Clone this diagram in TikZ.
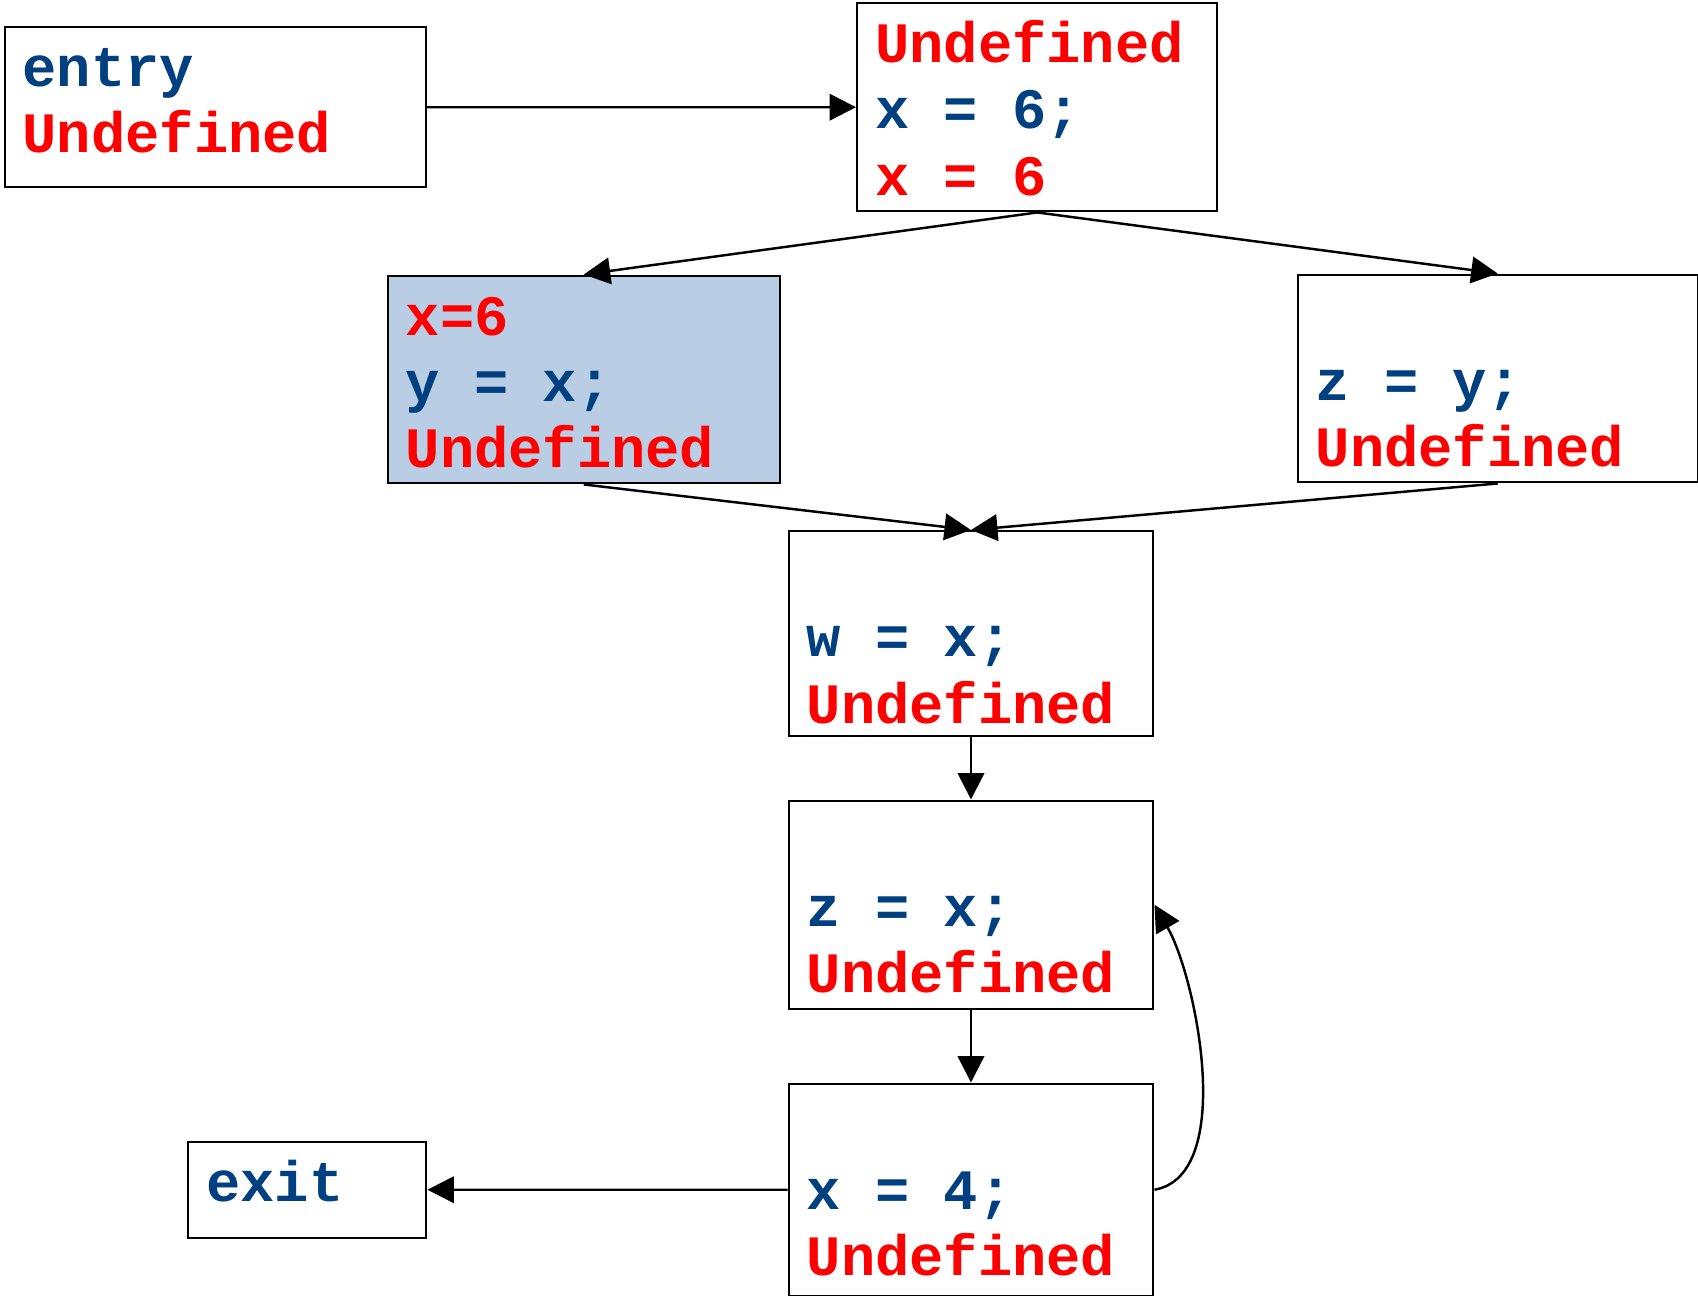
\documentclass[tikz,border=0pt]{standalone}
\usepackage{fontspec}
\usetikzlibrary{arrows.meta}
\newfontfamily\codefont{Liberation Mono}
\definecolor{codeblue}{RGB}{0,64,128}
\definecolor{boxfill}{RGB}{185,205,228}
\newcommand{\stm}[1]{{\spaceskip=0.6em\relax\textcolor{codeblue}{#1}}}
\newcommand{\val}[1]{{\spaceskip=0.6em\relax\textcolor{red}{#1}}}

\begin{document}
\begin{tikzpicture}[
    blk/.style={draw, line width=1.4pt, anchor=north west, align=left,
      inner xsep=0.36cm, inner ysep=0pt, text height=1.19cm,
      font=\codefont\bfseries\fontsize{32.5}{37.7}\selectfont},
    flow/.style={line width=1.4pt, -{Triangle[length=0.53cm,width=0.53cm]}}]
        \useasboundingbox (0,0) rectangle (33.96,-25.92);
        %entry block
        \node[blk, text width=7.7cm, text depth=2.01cm] (entry) at (0.07,-0.52)
            {\stm{entry}\\\val{Undefined}};
        %x = 6
        \node[blk, text width=6.48cm, text depth=2.97cm] (xsix) at (17.12,-0.04)
            {\val{Undefined}\\\stm{x = 6;}\\\val{x = 6}};
        %y = x (highlighted)
        \node[blk, fill=boxfill, text width=7.12cm, text depth=2.96cm] (yx) at (7.73,-5.49)
            {\val{x=6}\\\stm{y = x;}\\\val{Undefined}};
        %z = y
        \node[blk, text width=7.28cm, text depth=2.96cm] (zy) at (25.93,-5.47)
            {\mbox{}\\\stm{z = y;}\\\val{Undefined}};
        %w = x
        \node[blk, text width=6.57cm, text depth=2.91cm] (wx) at (15.75,-10.6)
            {\mbox{}\\\stm{w = x;}\\\val{Undefined}};
        %z = x
        \node[blk, text width=6.57cm, text depth=2.97cm] (zx) at (15.75,-15.99)
            {\mbox{}\\\stm{z = x;}\\\val{Undefined}};
        %x = 4
        \node[blk, text width=6.57cm, text depth=3.05cm] (xfour) at (15.75,-21.65)
            {\mbox{}\\\stm{x = 4;}\\\val{Undefined}};
        %exit block
        \node[blk, text width=4.04cm, text depth=0.73cm] (exit) at (3.74,-22.81)
            {\stm{exit}};
        %edges
        \draw[flow] (entry.east) -- (xsix.west);
        \draw[flow] (xsix.south) -- (yx.north);
        \draw[flow] (xsix.south) -- (zy.north);
        \draw[flow] (yx.south) -- (wx.north);
        \draw[flow] (zy.south) -- (wx.north);
        \draw[flow] (wx.south) -- (zx.north);
        \draw[flow] (zx.south) -- (xfour.north);
        \draw[flow] (xfour.west) -- (exit.east);
        %back edge
        \draw[flow] (xfour.east) to[out=10, in=-60, looseness=0.75] (zx.east);
\end{tikzpicture}
\end{document}
